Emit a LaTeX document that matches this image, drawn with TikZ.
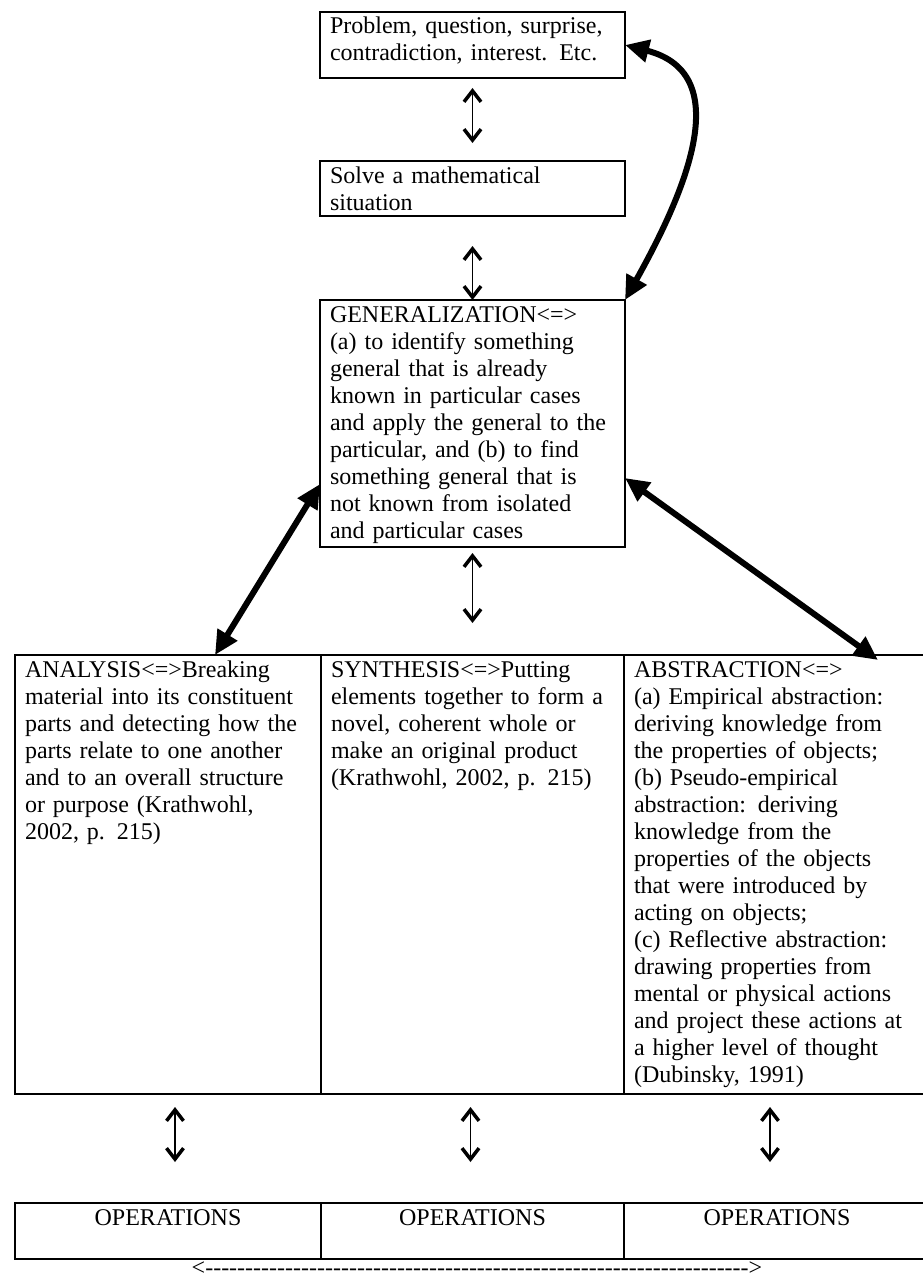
\documentclass[tikz,border=0pt]{standalone}
\usepackage{fontspec}
\setmainfont{Liberation Serif}
\usetikzlibrary{positioning}
\usetikzlibrary{arrows.meta}
\newcommand{\dashrow}{\foreach \d in {1,...,68}{\hbox{-}}}
\tikzset{
    cellbox/.style = {draw=black, line width=1.2pt, outer sep=0pt, anchor=north west, align=left, inner xsep=10pt, inner ysep=3pt, text height=19pt, font=\fontsize{24}{27}\selectfont},
    opbox/.style = {draw=black, line width=1.2pt, outer sep=0pt, anchor=north west, align=center, inner xsep=10pt, inner ysep=3pt, text height=19pt, text depth=31pt, font=\fontsize{24}{27}\selectfont},
    dblink/.style = {{Straight Barb[length=11pt,width=17pt,line width=3.5pt]}-{Straight Barb[length=11pt,width=17pt,line width=3.5pt]}, line width=1.6pt, black},
    boldlink/.style = {{Triangle[length=24pt,width=22pt]}-{Triangle[length=24pt,width=22pt]}, line width=6pt, black},
    thickrule/.style = {line width=2.6pt, black}
}
\begin{document}
\begin{tikzpicture}[x=1pt, y=-1pt]
  \useasboundingbox (0,0) rectangle (922,1279);
  % top chain
  \node[cellbox, text width=285pt, text depth=41pt] (prob) at (320,12) {Problem, question, surprise,\\contradiction, interest. Etc.};
  \node[cellbox, text width=285pt, text depth=30pt, below=83pt of prob] (solve) {Solve a mathematical\\situation};
  \node[cellbox, text width=285pt, text depth=222pt, below=84pt of solve] (gen) {GENERALIZATION<=>\\(a) to identify something\\general that is already\\known in particular cases\\and apply the general to the\\particular, and (b) to find\\something general that is\\not known from isolated\\and particular cases};
  % three columns
  \node[cellbox, text width=286pt, text depth=414pt] (ana) at (15,655) {ANALYSIS<=>Breaking\\material into its constituent\\parts and detecting how the\\parts relate to one another\\and to an overall structure\\or purpose (Krathwohl,\\2002, p. 215)};
  \node[cellbox, text width=283pt, text depth=414pt, right=0pt of ana] (syn) {SYNTHESIS<=>Putting\\elements together to form a\\novel, coherent whole or\\make an original product\\(Krathwohl, 2002, p. 215)};
  \node[cellbox, text width=286pt, text depth=414pt, right=0pt of syn] (abs) {ABSTRACTION<=>\\(a) Empirical abstraction:\\deriving knowledge from\\the properties of objects;\\(b) Pseudo-empirical\\abstraction: deriving\\knowledge from the\\properties of the objects\\that were introduced by\\acting on objects;\\(c) Reflective abstraction:\\drawing properties from\\mental or physical actions\\and project these actions at\\a higher level of thought\\(Dubinsky, 1991)};
  % operations row
  \node[opbox, text width=286pt, below=109pt of ana] (opa) {OPERATIONS};
  \node[opbox, text width=283pt, right=0pt of opa] (opb) {OPERATIONS};
  \node[opbox, text width=286pt, right=0pt of opb] (opc) {OPERATIONS};
  \draw[thickrule] (ana.south west) -- (abs.south east);
  \draw[thickrule] (opa.south west) -- (opc.south east);
  \node[font=\fontsize{24}{27}\selectfont, anchor=base, inner sep=0pt] (span) at (477,1275) {<\dashrow>};
  % thin two-way arrows
  \draw[dblink, shorten <=10pt, shorten >=18pt] (prob) -- (solve);
  \draw[dblink, shorten <=30pt] (solve) -- (gen);
  \draw[dblink, shorten <=6pt, shorten >=32pt] (gen) -- (syn);
  \draw[dblink, shorten <=13pt, shorten >=41pt] ([xshift=7pt]ana.south) -- ([xshift=7pt]opa.north);
  \draw[dblink, shorten <=13pt, shorten >=41pt] ([xshift=-2pt]syn.south) -- ([xshift=-2pt]opb.north);
  \draw[dblink, shorten <=13pt, shorten >=41pt] ([xshift=-7pt]abs.south) -- ([xshift=-7pt]opc.north);
  % bold arrows
  \draw[boldlink] (prob.east) .. controls (730,72) and (695,175) .. (gen.north east);
  \draw[boldlink] ([xshift=47pt]ana.north) -- ([yshift=63pt]gen.south west);
  \draw[boldlink] ([yshift=69pt]gen.south east) -- ([xshift=101pt,yshift=-5pt]abs.north);
\end{tikzpicture}
\end{document}
